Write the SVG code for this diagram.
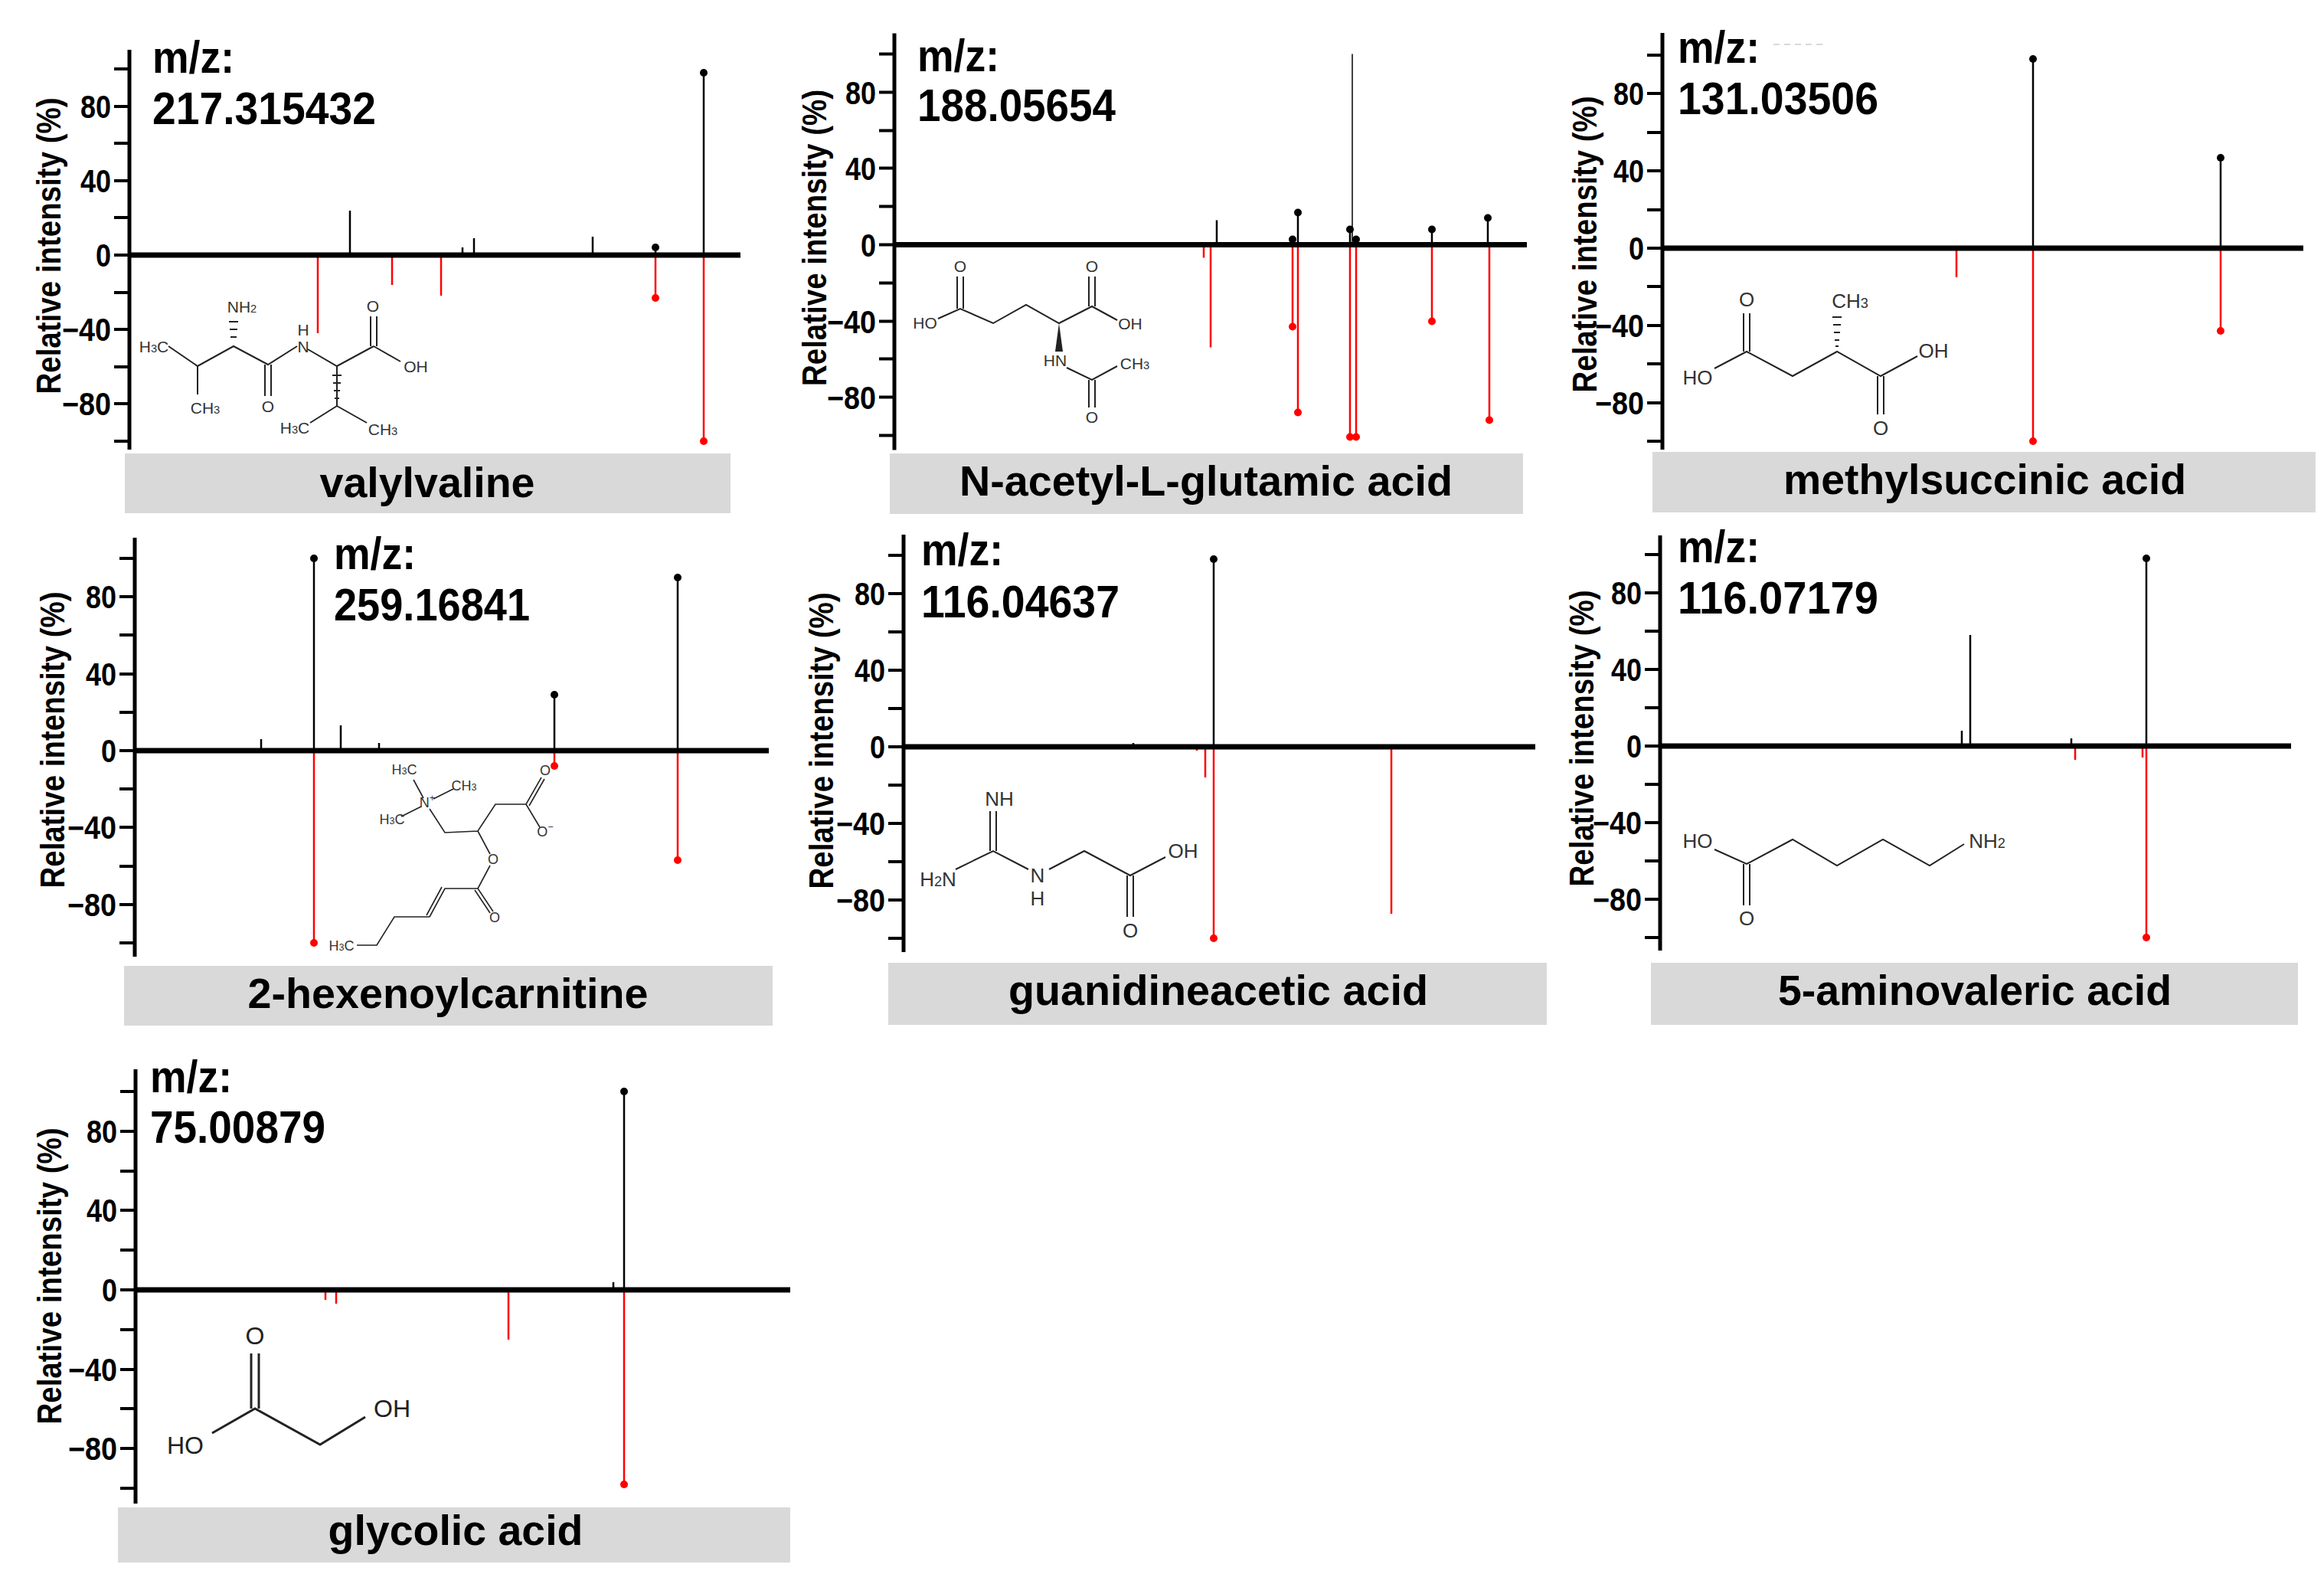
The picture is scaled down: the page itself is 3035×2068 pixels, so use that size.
<svg xmlns="http://www.w3.org/2000/svg" width="3035" height="2068" viewBox="0 0 3035 2068">
<style>
text{font-family:"Liberation Sans Narrow","Liberation Sans",Arial,sans-serif}
.ax{stroke:#000;stroke-width:5;fill:none}
.z{stroke:#000;stroke-width:7;fill:none}
.tk{stroke:#000;stroke-width:4;fill:none}
.pk{stroke:#000;stroke-width:2.5;fill:none}
.rd{stroke:#f00;stroke-width:2.5;fill:none}
.dk{fill:#000}
.dr{fill:#f00}
.bar{fill:#d9d9d9}
.tl{font-size:42px;font-weight:bold;text-anchor:end;fill:#000}
.mz{font-size:60px;font-weight:bold;fill:#000}
.yl{font-size:44px;font-weight:bold;text-anchor:middle;fill:#000}
.nm{font-size:56px;font-weight:bold;text-anchor:middle;fill:#000}
.st{stroke:#222;stroke-width:2;fill:none}
.sx{fill:#333;font-size:21px;text-anchor:middle}
.sx2{fill:#333;font-size:26px;text-anchor:middle}
.sx3{fill:#222;font-size:32px;text-anchor:middle}
.sb{font-size:0.7em}
</style>

<!-- Panel 1 -->
<g id="valylvaline">
<rect class="bar" x="163" y="592" width="791" height="78"/>
<text class="nm" x="558" y="649" textLength="281" lengthAdjust="spacingAndGlyphs">valylvaline</text>
<g transform="translate(169,333)">
<line class="ax" x1="0" y1="-268" x2="0" y2="254"/>
<path class="tk" d="M-20 -243H0M-20 -194H0M-20 -146H0M-20 -97H0M-20 -49H0M-20 0H0M-20 49H0M-20 97H0M-20 146H0M-20 194H0M-20 243H0"/>
<text class="tl" x="-24" y="-179" textLength="40" lengthAdjust="spacingAndGlyphs">80</text><text class="tl" x="-24" y="-82" textLength="40" lengthAdjust="spacingAndGlyphs">40</text><text class="tl" x="-24" y="15" textLength="20" lengthAdjust="spacingAndGlyphs">0</text><text class="tl" x="-24" y="112" textLength="64" lengthAdjust="spacingAndGlyphs">−40</text><text class="tl" x="-24" y="209" textLength="64" lengthAdjust="spacingAndGlyphs">−80</text>
<text class="yl" transform="translate(-90,-12) rotate(-90)" textLength="387" lengthAdjust="spacingAndGlyphs">Relative intensity (%)</text>
<text class="mz" x="30" y="-238" textLength="107" lengthAdjust="spacingAndGlyphs">m/z:</text>
<text class="mz" x="30" y="-171" textLength="292" lengthAdjust="spacingAndGlyphs">217.315432</text>
<path class="pk" d="M288 0V-58M435 0V-10M450 0V-22M605 0V-24M687 0V-10M750 0V-238"/>
<path class="rd" d="M246 0V102M343 0V39M407 0V53M687 0V56M750 0V243"/>
<circle class="dk" cx="687" cy="-10" r="5"/><circle class="dk" cx="750" cy="-238" r="5"/>
<circle class="dr" cx="687" cy="56" r="5"/><circle class="dr" cx="750" cy="243" r="5"/>
<line class="z" x1="0" y1="0" x2="798" y2="0"/>
</g>
<g>
<path class="st" d="M220 452L258 478L305 452L350 476L388 452M258 478V515M346 476V517M354 476V517M402 456L440 478L488 452M484 452V413M492 452V413M488 452L523 472M440 478L440 530M440 530L405 552M440 530L479 552"/>
<path class="st" d="M299 420H311M300 430H310M301 440H309M434 490H446M435 500H445M436 510H444M437 520H443"/>
<text class="sx" x="201" y="460">H<tspan class="sb">3</tspan>C</text>
<text class="sx" x="316" y="408">NH<tspan class="sb">2</tspan></text>
<text class="sx" x="396" y="438">H</text><text class="sx" x="396" y="460">N</text>
<text class="sx" x="487" y="407">O</text>
<text class="sx" x="543" y="486">OH</text>
<text class="sx" x="268" y="540">CH<tspan class="sb">3</tspan></text>
<text class="sx" x="350" y="538">O</text>
<text class="sx" x="385" y="566">H<tspan class="sb">3</tspan>C</text>
<text class="sx" x="500" y="568">CH<tspan class="sb">3</tspan></text>
</g>
</g>

<!-- Panel 2 -->
<g id="n-acetyl-l-glutamic-acid">
<rect class="bar" x="1162" y="592" width="827" height="79"/>
<text class="nm" x="1575" y="647" textLength="644" lengthAdjust="spacingAndGlyphs">N-acetyl-L-glutamic acid</text>
<g transform="translate(1168,319.5)">
<line class="ax" x1="0" y1="-276" x2="0" y2="268"/>
<path class="tk" d="M-20 -249H0M-20 -199H0M-20 -149H0M-20 -100H0M-20 -50H0M-20 0H0M-20 50H0M-20 100H0M-20 149H0M-20 199H0M-20 249H0"/>
<text class="tl" x="-24" y="-184" textLength="40" lengthAdjust="spacingAndGlyphs">80</text><text class="tl" x="-24" y="-85" textLength="40" lengthAdjust="spacingAndGlyphs">40</text><text class="tl" x="-24" y="15" textLength="20" lengthAdjust="spacingAndGlyphs">0</text><text class="tl" x="-24" y="115" textLength="64" lengthAdjust="spacingAndGlyphs">−40</text><text class="tl" x="-24" y="214" textLength="64" lengthAdjust="spacingAndGlyphs">−80</text>
<text class="yl" transform="translate(-89,-9) rotate(-90)" textLength="387" lengthAdjust="spacingAndGlyphs">Relative intensity (%)</text>
<text class="mz" x="30" y="-227" textLength="107" lengthAdjust="spacingAndGlyphs">m/z:</text>
<text class="mz" x="30" y="-162" textLength="259" lengthAdjust="spacingAndGlyphs">188.05654</text>
<path class="pk" d="M421 0V-32M520 0V-7M527 0V-42M595 0V-20M603 0V-7M702 0V-20M775 0V-35"/>
<path class="pk" style="stroke-width:1.5" d="M598 0V-249"/>
<path class="rd" d="M404 0V17M413 0V134M520 0V107M527 0V219M595 0V251M603 0V251M702 0V100M777 0V229"/>
<circle class="dk" cx="520" cy="-7" r="5"/><circle class="dk" cx="527" cy="-42" r="5"/><circle class="dk" cx="595" cy="-20" r="5"/><circle class="dk" cx="603" cy="-7" r="5"/><circle class="dk" cx="702" cy="-20" r="5"/><circle class="dk" cx="775" cy="-35" r="5"/>
<circle class="dr" cx="520" cy="107" r="5"/><circle class="dr" cx="527" cy="219" r="5"/><circle class="dr" cx="595" cy="251" r="5"/><circle class="dr" cx="603" cy="251" r="5"/><circle class="dr" cx="702" cy="100" r="5"/><circle class="dr" cx="777" cy="229" r="5"/>
<line class="z" x1="0" y1="0" x2="826" y2="0"/>
</g>
<g>
<path class="st" d="M1225 416L1254 403L1297 422L1340 398L1383 422L1426 400L1459 418M1250 403V361M1258 403V361M1422 400V361M1430 400V361M1393 480L1426 496L1459 478M1422 496V532M1430 496V532"/>
<path d="M1383 422L1378 459H1388Z" fill="#222"/>
<text class="sx" x="1208" y="429">HO</text>
<text class="sx" x="1254" y="355">O</text><text class="sx" x="1426" y="355">O</text>
<text class="sx" x="1476" y="430">OH</text>
<text class="sx" x="1378" y="478">HN</text>
<text class="sx" x="1482" y="482">CH<tspan class="sb">3</tspan></text>
<text class="sx" x="1426" y="552">O</text>
</g>
</g>

<!-- Panel 3 -->
<g id="methylsuccinic-acid">
<rect class="bar" x="2158" y="590" width="866" height="79"/>
<text class="nm" x="2592" y="645" textLength="526" lengthAdjust="spacingAndGlyphs">methylsuccinic acid</text>
<g transform="translate(2171,324)">
<line class="ax" x1="0" y1="-281" x2="0" y2="263"/>
<path class="tk" d="M-20 -252H0M-20 -202H0M-20 -151H0M-20 -101H0M-20 -50H0M-20 0H0M-20 50H0M-20 101H0M-20 151H0M-20 202H0M-20 252H0"/>
<text class="tl" x="-24" y="-187" textLength="40" lengthAdjust="spacingAndGlyphs">80</text><text class="tl" x="-24" y="-86" textLength="40" lengthAdjust="spacingAndGlyphs">40</text><text class="tl" x="-24" y="15" textLength="20" lengthAdjust="spacingAndGlyphs">0</text><text class="tl" x="-24" y="116" textLength="64" lengthAdjust="spacingAndGlyphs">−40</text><text class="tl" x="-24" y="217" textLength="64" lengthAdjust="spacingAndGlyphs">−80</text>
<text class="yl" transform="translate(-86,-5) rotate(-90)" textLength="387" lengthAdjust="spacingAndGlyphs">Relative intensity (%)</text>
<text class="mz" x="20" y="-242" textLength="107" lengthAdjust="spacingAndGlyphs">m/z:</text>
<line x1="145" y1="-266" x2="215" y2="-266" stroke="#ccc" stroke-width="1.5" stroke-dasharray="8 6"/>
<text class="mz" x="20" y="-175" textLength="262" lengthAdjust="spacingAndGlyphs">131.03506</text>
<path class="pk" d="M484 0V-247M729 0V-118"/>
<path class="rd" d="M384 0V38M484 0V252M729 0V108"/>
<circle class="dk" cx="484" cy="-247" r="5"/><circle class="dk" cx="729" cy="-118" r="5"/>
<circle class="dr" cx="484" cy="252" r="5"/><circle class="dr" cx="729" cy="108" r="5"/>
<line class="z" x1="0" y1="0" x2="837" y2="0"/>
</g>
<g>
<path class="st" d="M2239 481L2281 459L2341 491L2399 459L2456 491L2504 465M2277 459V409M2285 459V409M2452 491V541M2460 491V541"/>
<path class="st" d="M2393 414H2405M2394 424H2404M2395 434H2403M2396 444H2402M2397 452H2401"/>
<text class="sx2" x="2217" y="502">HO</text>
<text class="sx2" x="2281" y="400">O</text>
<text class="sx2" x="2416" y="402">CH<tspan class="sb">3</tspan></text>
<text class="sx2" x="2525" y="467">OH</text>
<text class="sx2" x="2456" y="568">O</text>
</g>
</g>

<!-- Panel 4 -->
<g id="2-hexenoylcarnitine">
<rect class="bar" x="162" y="1261" width="847" height="78"/>
<text class="nm" x="585" y="1316" textLength="523" lengthAdjust="spacingAndGlyphs">2-hexenoylcarnitine</text>
<g transform="translate(176,980)">
<line class="ax" x1="0" y1="-278" x2="0" y2="269"/>
<path class="tk" d="M-20 -251H0M-20 -201H0M-20 -151H0M-20 -100H0M-20 -50H0M-20 0H0M-20 50H0M-20 100H0M-20 151H0M-20 201H0M-20 251H0"/>
<text class="tl" x="-24" y="-186" textLength="40" lengthAdjust="spacingAndGlyphs">80</text><text class="tl" x="-24" y="-85" textLength="40" lengthAdjust="spacingAndGlyphs">40</text><text class="tl" x="-24" y="15" textLength="20" lengthAdjust="spacingAndGlyphs">0</text><text class="tl" x="-24" y="115" textLength="64" lengthAdjust="spacingAndGlyphs">−40</text><text class="tl" x="-24" y="216" textLength="64" lengthAdjust="spacingAndGlyphs">−80</text>
<text class="yl" transform="translate(-92,-14) rotate(-90)" textLength="387" lengthAdjust="spacingAndGlyphs">Relative intensity (%)</text>
<text class="mz" x="260" y="-237" textLength="107" lengthAdjust="spacingAndGlyphs">m/z:</text>
<text class="mz" x="260" y="-170" textLength="256" lengthAdjust="spacingAndGlyphs">259.16841</text>
<path class="pk" d="M165 0V-15M234 0V-251M269 0V-33M319 0V-10M548 0V-73M709 0V-226"/>
<path class="rd" d="M234 0V251M548 0V20M709 0V143"/>
<circle class="dk" cx="234" cy="-251" r="5"/><circle class="dk" cx="548" cy="-73" r="5"/><circle class="dk" cx="709" cy="-226" r="5"/>
<circle class="dr" cx="234" cy="251" r="5"/><circle class="dr" cx="548" cy="20" r="5"/><circle class="dr" cx="709" cy="143" r="5"/>
<line class="z" x1="0" y1="0" x2="828" y2="0"/>
</g>
<g>
<path class="st" style="stroke-width:1.6" d="M540 1018L553 1042M566 1043L592 1030M550 1053L524 1066M561 1056L581 1087L624 1085L647 1050L687 1050L707 1015M691 1052L711 1017M687 1050L705 1080M624 1085L640 1115M640 1130L624 1160L644 1190M620 1162L640 1192M624 1160L581 1160L561 1197M577 1158L557 1195M561 1197L515 1197L492 1234L466 1234"/>
<text class="sx" style="font-size:18px" x="528" y="1011">H<tspan class="sb">3</tspan>C</text>
<text class="sx" style="font-size:18px" x="558" y="1054">N<tspan class="sb" dy="-8">+</tspan></text>
<text class="sx" style="font-size:18px" x="606" y="1032">CH<tspan class="sb">3</tspan></text>
<text class="sx" style="font-size:18px" x="512" y="1076">H<tspan class="sb">3</tspan>C</text>
<text class="sx" style="font-size:18px" x="712" y="1012">O</text>
<text class="sx" style="font-size:18px" x="712" y="1092">O<tspan class="sb" dy="-8">−</tspan></text>
<text class="sx" style="font-size:18px" x="644" y="1128">O</text>
<text class="sx" style="font-size:18px" x="646" y="1204">O</text>
<text class="sx" style="font-size:18px" x="446" y="1241">H<tspan class="sb">3</tspan>C</text>
</g>
</g>

<!-- Panel 5 -->
<g id="guanidineacetic-acid">
<rect class="bar" x="1160" y="1257" width="860" height="81"/>
<text class="nm" x="1591" y="1312" textLength="548" lengthAdjust="spacingAndGlyphs">guanidineacetic acid</text>
<g transform="translate(1180,975)">
<line class="ax" x1="0" y1="-277" x2="0" y2="268"/>
<path class="tk" d="M-20 -250H0M-20 -200H0M-20 -150H0M-20 -100H0M-20 -50H0M-20 0H0M-20 50H0M-20 100H0M-20 150H0M-20 200H0M-20 250H0"/>
<text class="tl" x="-24" y="-185" textLength="40" lengthAdjust="spacingAndGlyphs">80</text><text class="tl" x="-24" y="-85" textLength="40" lengthAdjust="spacingAndGlyphs">40</text><text class="tl" x="-24" y="15" textLength="20" lengthAdjust="spacingAndGlyphs">0</text><text class="tl" x="-24" y="115" textLength="64" lengthAdjust="spacingAndGlyphs">−40</text><text class="tl" x="-24" y="215" textLength="64" lengthAdjust="spacingAndGlyphs">−80</text>
<text class="yl" transform="translate(-92,-8) rotate(-90)" textLength="387" lengthAdjust="spacingAndGlyphs">Relative intensity (%)</text>
<text class="mz" x="23" y="-237" textLength="107" lengthAdjust="spacingAndGlyphs">m/z:</text>
<text class="mz" x="23" y="-169" textLength="259" lengthAdjust="spacingAndGlyphs">116.04637</text>
<path class="pk" d="M300 0V-5M405 0V-245"/>
<path class="rd" d="M383 0V5M394 0V40M405 0V250M637 0V218"/>
<circle class="dk" cx="405" cy="-245" r="5"/>
<circle class="dr" cx="405" cy="250" r="5"/>
<line class="z" x1="0" y1="0" x2="825" y2="0"/>
</g>
<g>
<path class="st" d="M1248 1135L1297 1111L1343 1135M1293 1111V1059M1301 1111V1059M1370 1135L1416 1111L1476 1143L1522 1119M1472 1143V1197M1480 1143V1197"/>
<text class="sx2" x="1305" y="1052">NH</text>
<text class="sx2" x="1225" y="1157">H<tspan class="sb">2</tspan>N</text>
<text class="sx2" x="1355" y="1152">N</text><text class="sx2" x="1355" y="1182">H</text>
<text class="sx2" x="1545" y="1120">OH</text>
<text class="sx2" x="1476" y="1224">O</text>
</g>
</g>

<!-- Panel 6 -->
<g id="5-aminovaleric-acid">
<rect class="bar" x="2156" y="1257" width="845" height="81"/>
<text class="nm" x="2579" y="1312" textLength="514" lengthAdjust="spacingAndGlyphs">5-aminovaleric acid</text>
<g transform="translate(2168,974)">
<line class="ax" x1="0" y1="-275" x2="0" y2="267"/>
<path class="tk" d="M-20 -250H0M-20 -200H0M-20 -150H0M-20 -100H0M-20 -50H0M-20 0H0M-20 50H0M-20 100H0M-20 150H0M-20 200H0M-20 250H0"/>
<text class="tl" x="-24" y="-185" textLength="40" lengthAdjust="spacingAndGlyphs">80</text><text class="tl" x="-24" y="-85" textLength="40" lengthAdjust="spacingAndGlyphs">40</text><text class="tl" x="-24" y="15" textLength="20" lengthAdjust="spacingAndGlyphs">0</text><text class="tl" x="-24" y="115" textLength="64" lengthAdjust="spacingAndGlyphs">−40</text><text class="tl" x="-24" y="215" textLength="64" lengthAdjust="spacingAndGlyphs">−80</text>
<text class="yl" transform="translate(-87,-10) rotate(-90)" textLength="387" lengthAdjust="spacingAndGlyphs">Relative intensity (%)</text>
<text class="mz" x="23" y="-240" textLength="107" lengthAdjust="spacingAndGlyphs">m/z:</text>
<text class="mz" x="23" y="-173" textLength="262" lengthAdjust="spacingAndGlyphs">116.07179</text>
<path class="pk" d="M394 0V-20M405 0V-145M537 0V-10M635 0V-245"/>
<path class="rd" d="M542 0V18M630 0V15M635 0V250"/>
<circle class="dk" cx="635" cy="-245" r="5"/>
<circle class="dr" cx="635" cy="250" r="5"/>
<line class="z" x1="0" y1="0" x2="824" y2="0"/>
</g>
<g>
<path class="st" d="M2239 1109L2281 1128L2341 1096L2399 1130L2459 1096L2520 1130L2565 1102M2277 1128V1182M2285 1128V1182"/>
<text class="sx2" x="2217" y="1107">HO</text>
<text class="sx2" x="2595" y="1107">NH<tspan class="sb">2</tspan></text>
<text class="sx2" x="2281" y="1208">O</text>
</g>
</g>

<!-- Panel 7 -->
<g id="glycolic-acid">
<rect class="bar" x="154" y="1968" width="878" height="72"/>
<text class="nm" x="595" y="2017" textLength="333" lengthAdjust="spacingAndGlyphs">glycolic acid</text>
<g transform="translate(177,1684)">
<line class="ax" x1="0" y1="-288" x2="0" y2="279"/>
<path class="tk" d="M-20 -259H0M-20 -207H0M-20 -155H0M-20 -104H0M-20 -52H0M-20 0H0M-20 52H0M-20 104H0M-20 155H0M-20 207H0M-20 259H0"/>
<text class="tl" x="-24" y="-192" textLength="40" lengthAdjust="spacingAndGlyphs">80</text><text class="tl" x="-24" y="-89" textLength="40" lengthAdjust="spacingAndGlyphs">40</text><text class="tl" x="-24" y="15" textLength="20" lengthAdjust="spacingAndGlyphs">0</text><text class="tl" x="-24" y="119" textLength="64" lengthAdjust="spacingAndGlyphs">−40</text><text class="tl" x="-24" y="222" textLength="64" lengthAdjust="spacingAndGlyphs">−80</text>
<text class="yl" transform="translate(-97,-18) rotate(-90)" textLength="387" lengthAdjust="spacingAndGlyphs">Relative intensity (%)</text>
<text class="mz" x="19" y="-258" textLength="107" lengthAdjust="spacingAndGlyphs">m/z:</text>
<text class="mz" x="19" y="-192" textLength="229" lengthAdjust="spacingAndGlyphs">75.00879</text>
<path class="pk" d="M624 0V-10M638 0V-259"/>
<path class="rd" d="M248 0V13M262 0V18M487 0V65M638 0V254"/>
<circle class="dk" cx="638" cy="-259" r="5"/>
<circle class="dr" cx="638" cy="254" r="5"/>
<line class="z" x1="0" y1="0" x2="855" y2="0"/>
</g>
<g>
<path class="st" style="stroke-width:3" d="M277 1871L333 1839L418 1886L477 1850M328 1839V1767M338 1839V1767"/>
<text class="sx3" x="333" y="1755">O</text>
<text class="sx3" x="242" y="1898">HO</text>
<text class="sx3" x="512" y="1850">OH</text>
</g>
</g>
</svg>
